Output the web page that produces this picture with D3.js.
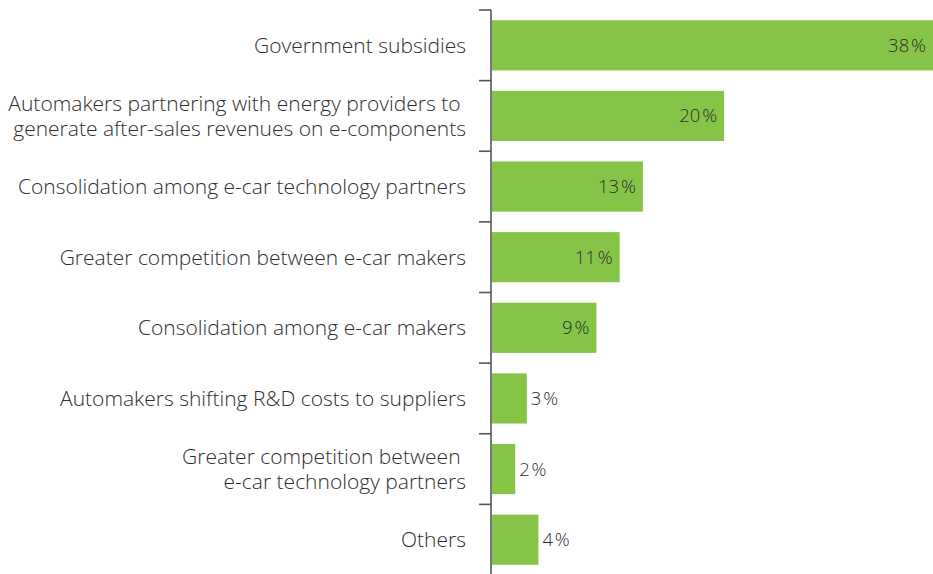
<!DOCTYPE html>
<html>
<head>
<meta charset="utf-8">
<script src="https://cdn.jsdelivr.net/npm/d3@7"></script>
<style>
  html, body { margin: 0; padding: 0; background: #fff; }
  svg { display: block; }
  text { font-family: "Open Sans", "Liberation Sans", Arial, sans-serif; font-weight: 300; fill: #2e2e2e; }
</style>
</head>
<body>
<svg id="chart" width="933" height="574"></svg>
<script>
// Category labels (each entry is the list of lines for that label)
const categories = [
  ["Government subsidies"],
  ["Automakers partnering with energy providers to ", "generate after-sales revenues on e-components"],
  ["Consolidation among e-car technology partners"],
  ["Greater competition between e-car makers"],
  ["Consolidation among e-car makers"],
  ["Automakers shifting R&D costs to suppliers"],
  ["Greater competition between ", "e-car technology partners"],
  ["Others"]
];
const values = [38, 20, 13, 11, 9, 3, 2, 4];
const insideThreshold = 5;

const svg = d3.select("#chart");
const axisX = 491;

const ids = d3.range(categories.length);

const y = d3.scaleBand()
  .domain(ids)
  .range([10, 575])
  .paddingInner(0.29)
  .paddingOuter(0.145);

const x = d3.scaleLinear()
  .domain([0, 38])
  .range([axisX + 1, 933]);

const gap = y.step() * y.paddingInner();

// Bars
svg.append("g").selectAll("rect")
  .data(ids)
  .join("rect")
  .attr("x", x(0))
  .attr("y", i => y(i))
  .attr("width", i => x(values[i]) - x(0))
  .attr("height", y.bandwidth())
  .attr("fill", "#85c446");

// Axis line with ticks at the band boundaries
const axisG = svg.append("g");
axisG.append("line")
  .attr("x1", axisX).attr("x2", axisX)
  .attr("y1", 10).attr("y2", 575)
  .attr("stroke", "#555").attr("stroke-width", 1.6);
axisG.selectAll("line.tick")
  .data(ids)
  .join("line")
  .attr("class", "tick")
  .attr("x1", axisX - 12).attr("x2", axisX)
  .attr("y1", i => y(i) - gap / 2)
  .attr("y2", i => y(i) - gap / 2)
  .attr("stroke", "#555").attr("stroke-width", 1.6);

// Category labels
const lineH = 25;
const lab = svg.append("g").selectAll("text")
  .data(ids)
  .join("text")
  .attr("x", 466)
  .attr("text-anchor", "end")
  .attr("font-size", 21)
  .attr("xml:space", "preserve")
  .style("white-space", "pre");
lab.each(function(i) {
  const lines = categories[i];
  const cy = y(i) + y.bandwidth() / 2;
  const t = d3.select(this);
  lines.forEach((s, k) => {
    t.append("tspan")
      .attr("x", 466)
      .attr("y", cy + (k - (lines.length - 1) / 2) * lineH)
      .attr("dy", "0.35em")
      .text(s);
  });
});

// Value labels
svg.append("g").selectAll("text")
  .data(ids)
  .join("text")
  .attr("font-size", 18.5)
  .attr("y", i => y(i) + y.bandwidth() / 2)
  .attr("dy", "0.35em")
  .attr("x", i => values[i] >= insideThreshold ? x(values[i]) - 7 : x(values[i]) + 4)
  .attr("text-anchor", i => values[i] >= insideThreshold ? "end" : "start")
  .text(i => values[i] + "\u200A%");
</script>
</body>
</html>
